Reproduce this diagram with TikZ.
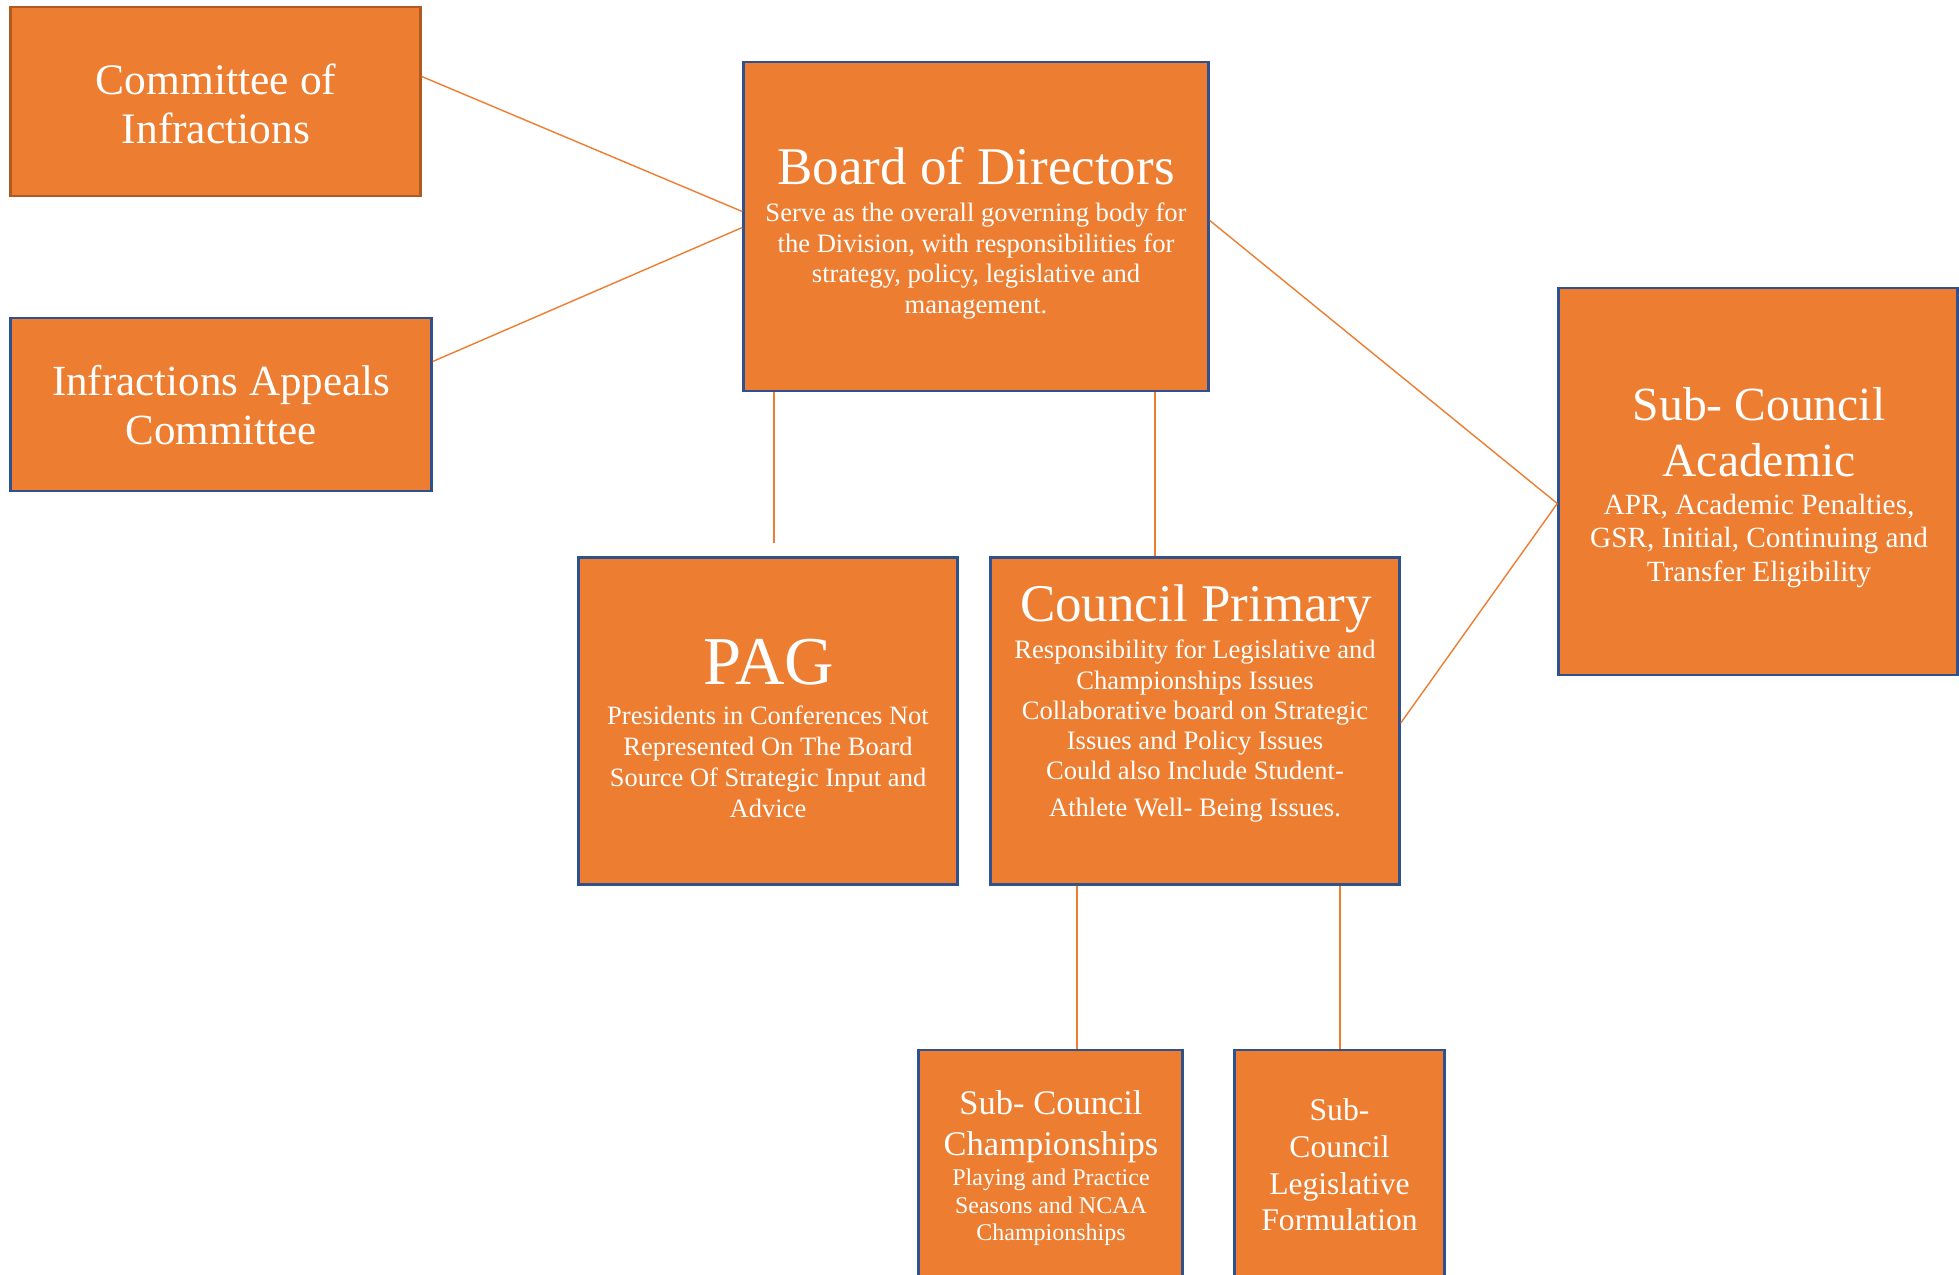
\documentclass[tikz,border=0pt]{standalone}
\usepackage{fontspec}
\setmainfont{Liberation Serif}
\definecolor{org}{HTML}{ED7D31}
\definecolor{bdr}{HTML}{2F528F}
\definecolor{bdrb}{HTML}{AE5A21}
\begin{document}
\begin{tikzpicture}[x=1pt,y=-1pt,
  box/.style={draw=bdr, fill=org, line width=2.5pt, inner sep=0pt, rectangle},
  txt/.style={text=white, inner sep=0pt, outer sep=0pt, align=center},
  link/.style={draw=org, line width=1.4pt}]
\useasboundingbox (0,0) rectangle (1959,1274);
\clip (0,0) rectangle (1959,1274);
\fill[white] (0,0) rectangle (1959,1274);

% boxes
\node[box, draw=bdrb, minimum width=410pt, minimum height=189pt] (coi) at (215.5,101.5) {};
\node[box, minimum width=421pt, minimum height=173pt] (iac) at (221,404.5) {};
\node[box, minimum width=465pt, minimum height=329pt] (board) at (976,226.5) {};
\node[box, minimum width=379pt, minimum height=327pt] (pag) at (768,721) {};
\node[box, minimum width=409pt, minimum height=327pt] (cp) at (1195,721) {};
\node[box, minimum width=399pt, minimum height=387pt] (sca) at (1758,481.5) {};
\node[box, minimum width=264pt, minimum height=250pt] (scc) at (1050.5,1175) {};
\node[box, minimum width=210pt, minimum height=250pt] (scl) at (1339.5,1175) {};

% connectors
\draw[link] ([yshift=25pt]coi.east) -- ([yshift=15pt]board.west);
\draw[link] ([yshift=43pt]iac.east) -- ([yshift=-1pt]board.west);
\draw[link] ([yshift=6pt]board.east) -- ([yshift=-22pt]sca.west);
\draw[link] ([yshift=-2pt]cp.east) -- ([yshift=-22pt]sca.west);
\draw[link] ([xshift=-202pt]board.south) -- ([xshift=6pt,yshift=13pt]pag.north);
\draw[link] ([xshift=179pt]board.south) -- ([xshift=-40pt]cp.north);
\draw[link] ([xshift=-118pt]cp.south) -- ([xshift=26.5pt]scc.north);
\draw[link] ([xshift=145pt]cp.south) -- ([xshift=0.5pt]scl.north);

% texts
\node[txt, anchor=north, font=\fontsize{43.5}{49}\selectfont] (coiT) at (216,60)
  {\strut Committee of\\Infractions};
\node[txt, anchor=north, font=\fontsize{43}{49}\selectfont] (iacT) at (221,361.5)
  {\strut Infractions Appeals\\Committee};

\node[txt, anchor=base, font=\fontsize{53}{60}\selectfont] (boardT) at (976,184.5) {Board of Directors};
\node[txt, anchor=north, font=\fontsize{26.6}{30.7}\selectfont] (boardB) at (976,200)
  {\strut Serve as the overall governing body for\\the Division, with responsibilities for\\strategy, policy, legislative and\\management.};

\node[txt, anchor=base, font=\fontsize{68.5}{76}\selectfont] (pagT) at (769,684.5) {PAG};
\node[txt, anchor=north, font=\fontsize{26.5}{31}\selectfont] (pagB) at (768,703)
  {\strut Presidents in Conferences Not\\Represented On The Board\\Source Of Strategic Input and\\Advice};

\node[txt, anchor=base, font=\fontsize{53}{60}\selectfont] (cpT) at (1196,621.5) {Council Primary};
\node[txt, anchor=north, font=\fontsize{26.6}{30.3}\selectfont] (cpB) at (1195,637.5)
  {\strut Responsibility for Legislative and\\Championships Issues\\Collaborative board on Strategic\\Issues and Policy Issues\\Could also Include Student-\\[6pt]Athlete Well- Being Issues.};

\node[txt, anchor=north, font=\fontsize{47.6}{56}\selectfont] (scaT) at (1759,381.5)
  {\strut Sub- Council\\Academic};
\node[txt, anchor=north, font=\fontsize{29.3}{33.7}\selectfont] (scaB) at (1759,490.5)
  {\strut APR, Academic Penalties,\\GSR, Initial, Continuing and\\Transfer Eligibility};

\node[txt, anchor=north, font=\fontsize{34.5}{41}\selectfont] (sccT) at (1051,1086)
  {\strut Sub- Council\\Championships};
\node[txt, anchor=north, font=\fontsize{24}{27.5}\selectfont] (sccB) at (1051,1166.5)
  {\strut Playing and Practice\\Seasons and NCAA\\Championships};

\node[txt, anchor=north, font=\fontsize{31.6}{36.7}\selectfont] (sclT) at (1339.5,1095)
  {\strut Sub-\\Council\\Legislative\\Formulation};
\end{tikzpicture}
\end{document}
